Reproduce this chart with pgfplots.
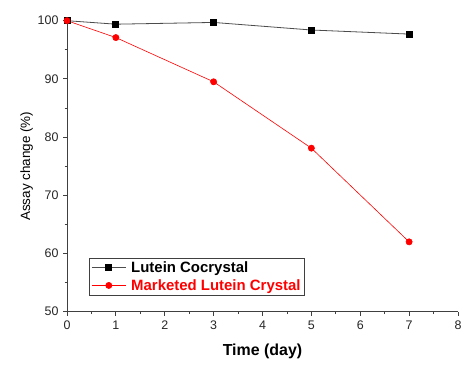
\documentclass[border=0pt]{standalone}
\usepackage{pgfplots}
\pgfplotsset{compat=1.18}
\usepackage{fontspec}
\setmainfont{Liberation Sans}
\usetikzlibrary{calc}
\begin{document}
\begin{tikzpicture}
\begin{axis}[name=ax, scale only axis, width=391bp, height=291bp,
  xmin=0, xmax=8, ymin=50, ymax=100,
  axis x line*=bottom, axis y line*=left,
  axis line style={draw=black!75, line width=0.8bp, -},
  xtick={0,...,8}, ytick={50,60,...,100},
  minor x tick num=1, minor y tick num=1,
  tick align=outside, major tick length=4bp, minor tick length=2.5bp,
  every tick/.style={black!75, line width=0.8bp},
  ticklabel style={font=\fontsize{12.5}{14}\selectfont, text=black!85},
  xticklabel style={yshift=-2bp},
  yticklabel style={xshift=-1bp},
  /pgf/number format/assume math mode=true,
  xlabel={Time (day)}, ylabel={Assay change (\%)},
  xlabel style={font=\fontsize{16}{18}\selectfont\bfseries, yshift=-7bp},
  ylabel style={font=\fontsize{13.5}{15}\selectfont, yshift=-2bp},
  clip=false,
  legend style={at={(axis cs:0.45,59.3)}, anchor=north west, draw=black!75, line width=0.8bp,
    font=\fontsize{15}{17}\selectfont\bfseries, inner xsep=2bp, inner ysep=1.5bp, row sep=1.5bp,
    /tikz/every odd column/.append style={column sep=3bp}},
  legend cell align=left,
  legend image code/.code={\draw[mark repeat=2,mark phase=2] plot coordinates {(0cm,0cm)(0.6cm,0cm)(1.2cm,0cm)};},
]
\addplot[black!70, line width=0.8bp, mark=square*, mark size=3.0bp, mark options={fill=black, draw=black}]
  coordinates {(0,100) (1,99.4) (3,99.7) (5,98.4) (7,97.7)};
\addlegendentry{Lutein Cocrystal}
\addplot[red, line width=0.6bp, mark=*, mark size=3.1bp, mark options={fill=red, draw=red}]
  coordinates {(0,100) (1,97.1) (3,89.5) (5,78.1) (7,62.0)};
\addlegendentry{\textcolor{red}{Marketed Lutein Crystal}}
\end{axis}
\pgfresetboundingbox
\path ($(ax.south west)+(-67bp,-54.3bp)$) rectangle ($(ax.north east)+(13bp,20.7bp)$);
\end{tikzpicture}
\end{document}
